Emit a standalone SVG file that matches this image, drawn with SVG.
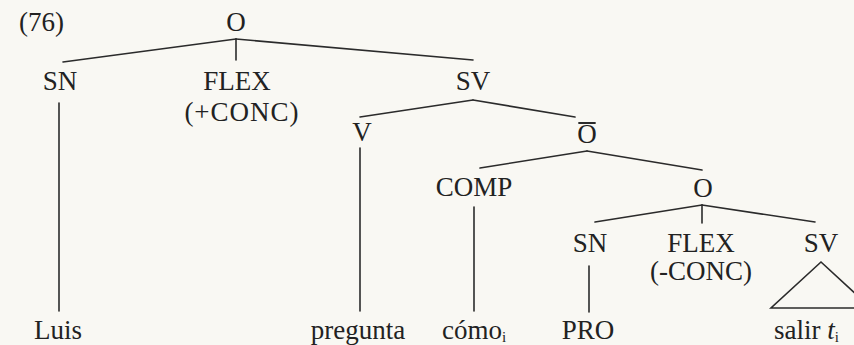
<svg xmlns="http://www.w3.org/2000/svg" width="854" height="345" viewBox="0 0 854 345">
<style>
text{font-family:"Liberation Serif","Times New Roman",serif;font-size:27px;fill:#222;}
.c{text-anchor:middle;}
.sub{font-size:15px;}
line,polygon,polyline{stroke:#2b2b2b;stroke-width:1.6;fill:none;stroke-linecap:round;}
</style>
<rect width="854" height="345" fill="#f9f8f3"/>
<text id="label" x="19" y="31">(76)</text>
<g id="connectors">
<line x1="236" y1="39" x2="63" y2="62"/>
<line x1="236" y1="39" x2="236" y2="60"/>
<line x1="236" y1="39" x2="473" y2="60"/>
<line x1="59" y1="103" x2="59" y2="311"/>
<line x1="473" y1="100" x2="360" y2="117"/>
<line x1="473" y1="100" x2="575" y2="117"/>
<line x1="360" y1="148" x2="360" y2="311"/>
<line x1="587" y1="151" x2="480" y2="168"/>
<line x1="587" y1="151" x2="702" y2="170"/>
<line x1="474" y1="207" x2="474" y2="311"/>
<line x1="702" y1="205" x2="595" y2="222"/>
<line x1="702" y1="205" x2="702" y2="223"/>
<line x1="702" y1="205" x2="815" y2="222"/>
<line x1="589" y1="266" x2="589" y2="312"/>
<polygon points="821,262 771,308 871,308"/>
</g>
<g id="n_O"><text class="c" x="236" y="31">O</text></g>
<g id="n_SN"><text class="c" x="60" y="90">SN</text></g>
<g id="n_FLEX"><text class="c" x="237" y="90">FLEX</text><text class="c" x="242" y="121" letter-spacing="1">(+CONC)</text></g>
<g id="n_SV"><text class="c" x="473" y="90">SV</text></g>
<g id="n_V"><text class="c" x="362" y="141">V</text></g>
<g id="n_Obar"><text class="c" x="587" y="143">O</text><line x1="579" y1="123" x2="595" y2="123" style="stroke-width:1.8"/></g>
<g id="n_COMP"><text class="c" x="474" y="196">COMP</text></g>
<g id="n_O2"><text class="c" x="703" y="197">O</text></g>
<g id="n_SN2"><text class="c" x="590" y="252">SN</text></g>
<g id="n_FLEX2"><text class="c" x="701" y="252">FLEX</text><text class="c" x="701" y="280">(-CONC)</text></g>
<g id="n_SV2"><text class="c" x="821" y="252">SV</text></g>
<g id="n_Luis"><text class="c" x="58" y="339">Luis</text></g>
<g id="n_pregunta"><text class="c" x="358" y="339">pregunta</text></g>
<g id="n_como"><text x="442" y="339">cómo<tspan class="sub" dy="3">i</tspan></text></g>
<g id="n_PRO"><text class="c" x="588" y="339">PRO</text></g>
<g id="n_salir"><text x="774" y="339">salir <tspan font-style="italic">t</tspan><tspan class="sub" dy="3">i</tspan></text></g>
</svg>
